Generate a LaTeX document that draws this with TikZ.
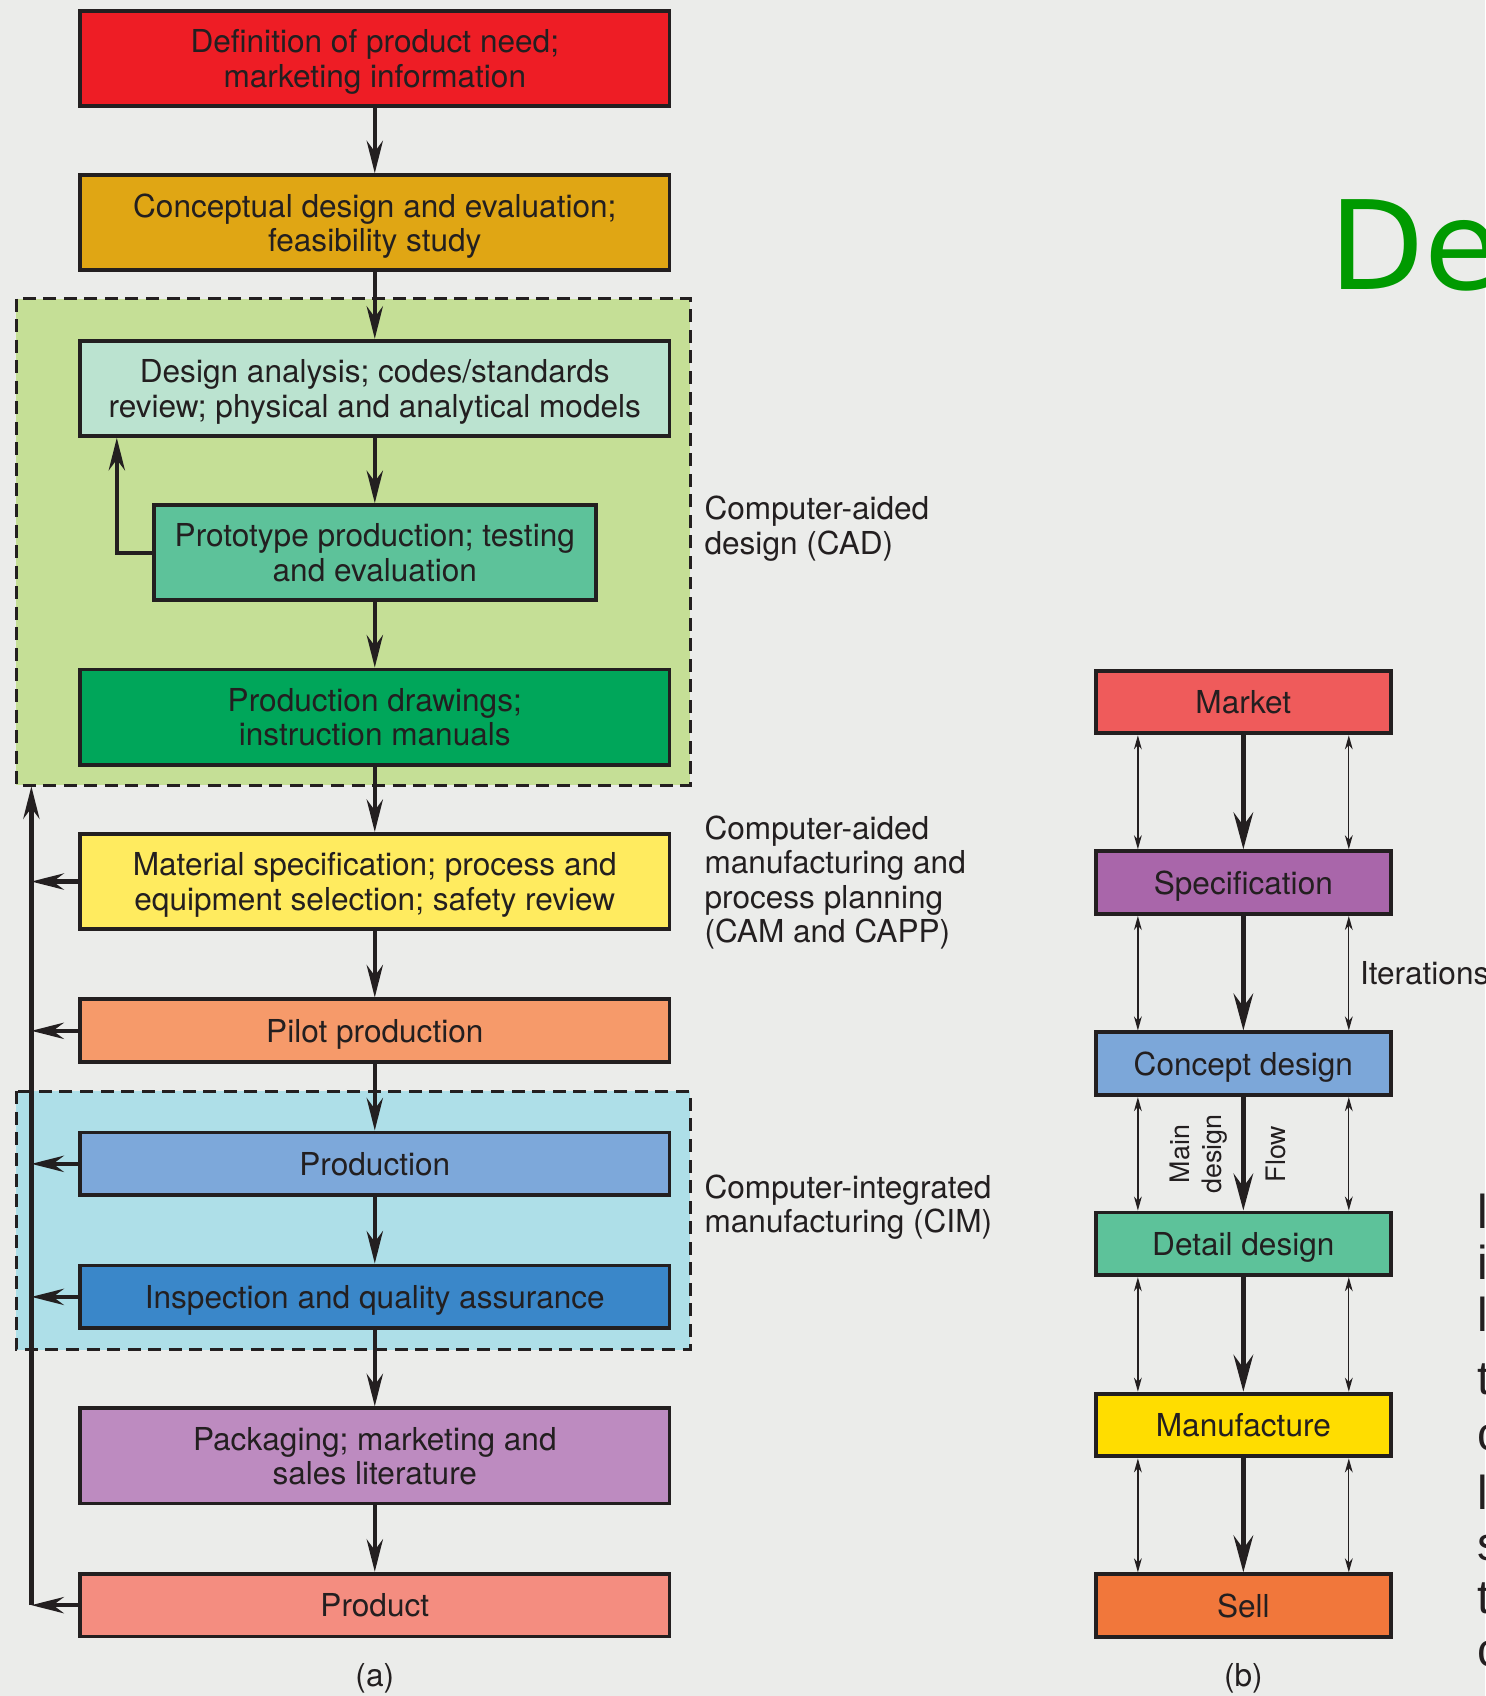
\documentclass[tikz,border=0pt]{standalone}
\usepackage{fontspec}
\setmainfont{TeX Gyre Heros}
\newfontfamily\titlefont{DejaVu Sans}
\newfontfamily\bodyfont{Liberation Sans}
\usetikzlibrary{arrows.meta}

\definecolor{ink}{HTML}{231F20}
\definecolor{bggray}{HTML}{EBECEA}
\definecolor{cadfill}{HTML}{C5DF96}
\definecolor{cimfill}{HTML}{AEDFE8}
\definecolor{needred}{HTML}{EE1D25}
\definecolor{conceptgold}{HTML}{E0A614}
\definecolor{analysismint}{HTML}{BBE3D0}
\definecolor{protogreen}{HTML}{5DC29A}
\definecolor{drawgreen}{HTML}{00A65A}
\definecolor{matyellow}{HTML}{FFEB5F}
\definecolor{pilotorange}{HTML}{F69A6A}
\definecolor{prodblue}{HTML}{7DA8DA}
\definecolor{inspblue}{HTML}{3A87C9}
\definecolor{packpurple}{HTML}{BD8BC0}
\definecolor{productsalmon}{HTML}{F48D80}
\definecolor{marketred}{HTML}{EF5B5B}
\definecolor{specpurple}{HTML}{A966AA}
\definecolor{conceptblue}{HTML}{7CA7D9}
\definecolor{detailgreen}{HTML}{5DC29A}
\definecolor{mfgyellow}{HTML}{FFDD00}
\definecolor{sellorange}{HTML}{F1773B}
\definecolor{titlegreen}{HTML}{009A00}

\newcommand{\boxfont}{\fontsize{14.6}{16}\selectfont}
\newcommand{\smallfont}{\fontsize{12.4}{15}\selectfont}

\tikzset{
  flowbox/.style={draw=ink, line width=1.8pt, minimum width=272.5pt,
    align=center, font=\boxfont, text=ink, inner sep=2pt, text depth=0pt},
  stagebox/.style={draw=ink, line width=1.8pt, minimum width=136.5pt,
    minimum height=29pt, align=center, font=\boxfont, text=ink, text depth=0pt},
  groupbox/.style={draw=ink, line width=1.4pt, dash pattern=on 6pt off 3.5pt},
  sidelabel/.style={anchor=west, align=left, inner sep=0pt, font=\boxfont, text=ink},
  mainarrow/.style={draw=ink, line width=2pt, -{Stealth[length=15pt,width=7.5pt,inset=5pt]}},
  flowarrow/.style={draw=ink, line width=2.5pt, -{Stealth[length=17pt,width=9pt,inset=6pt]}},
  iterarrow/.style={draw=ink, line width=0.6pt, {Stealth[length=6.5pt,width=3.6pt,inset=2pt]}-{Stealth[length=6.5pt,width=3.6pt,inset=2pt]}}
}

\newcommand{\twobox}{\node[flowbox, minimum height=44pt]}
\newcommand{\onebox}{\node[flowbox, minimum height=29pt]}
\newcommand{\stage}{\node[stagebox]}

\begin{document}
\begin{tikzpicture}[x=0.5pt, y=-0.5pt]
\useasboundingbox[fill=bggray] (0,0) rectangle (1373,1568);

% shaded groups (CAD and CIM)
\draw[groupbox, fill=cadfill] (15,276) rectangle (638,726);
\draw[groupbox, fill=cimfill] (15,1009) rectangle (638,1248);

% (a) product cycle
\twobox[fill=needred] (n1) at (346.5,54) {Definition of product need;\\marketing information};
\twobox[fill=conceptgold] (n2) at (346.5,206) {Conceptual design and evaluation;\\feasibility study};
\twobox[fill=analysismint] (n3) at (346.5,359) {Design analysis; codes/standards\\review; physical and analytical models};
\twobox[fill=protogreen, minimum width=204.5pt] (n4) at (346.5,511) {Prototype production; testing\\and evaluation};
\twobox[fill=drawgreen] (n5) at (346.5,663) {Production drawings;\\instruction manuals};
\twobox[fill=matyellow] (n6) at (346.5,815) {Material specification; process and\\equipment selection; safety review};
\onebox[fill=pilotorange] (n7) at (346.5,953) {Pilot production};
\onebox[fill=prodblue] (n8) at (346.5,1076) {Production};
\onebox[fill=inspblue] (n9) at (346.5,1199) {Inspection and quality assurance};
\twobox[fill=packpurple] (n10) at (346.5,1346) {Packaging; marketing and\\sales literature};
\onebox[fill=productsalmon] (n11) at (346.5,1484) {Product};

\coordinate (fbtop) at (29,727);
\coordinate (fbbot) at (29,1484);
\coordinate (loop) at (108,511);

\draw[mainarrow] (n1) -- (n2);
\draw[mainarrow] (n2) -- (n3);
\draw[mainarrow] (n3) -- (n4);
\draw[mainarrow] (n4) -- (n5);
\draw[mainarrow] (n5) -- (n6);
\draw[mainarrow] (n6) -- (n7);
\draw[mainarrow] (n7) -- (n8);
\draw[mainarrow] (n8) -- (n9);
\draw[mainarrow] (n9) -- (n10);
\draw[mainarrow] (n10) -- (n11);

% feedback loops
\draw[mainarrow] (n4.west) -- (loop) -- (loop |- n3.south);
\draw[mainarrow] (fbbot) -- (fbtop);
\draw[mainarrow] (n6.west) -- (n6.west -| fbtop);
\draw[mainarrow] (n7.west) -- (n7.west -| fbtop);
\draw[mainarrow] (n8.west) -- (n8.west -| fbtop);
\draw[mainarrow] (n9.west) -- (n9.west -| fbtop);
\draw[mainarrow] (n11.west) -- (fbbot);

\node[sidelabel] (cad) at (651,489) {Computer-aided\\design (CAD)};
\node[sidelabel] (cam) at (651,816) {Computer-aided\\manufacturing and\\process planning\\(CAM and CAPP)};
\node[sidelabel] (cim) at (651,1116) {Computer-integrated\\manufacturing (CIM)};
\node[font=\boxfont, text=ink] (capa) at (346.5,1552) {(a)};

% (b) design stages
\stage[fill=marketred] (m1) at (1149.5,649) {Market};
\stage[fill=specpurple] (m2) at (1149.5,816) {Specification};
\stage[fill=conceptblue] (m3) at (1149.5,983.5) {Concept design};
\stage[fill=detailgreen] (m4) at (1149.5,1150) {Detail design};
\stage[fill=mfgyellow] (m5) at (1149.5,1317.5) {Manufacture};
\stage[fill=sellorange] (m6) at (1149.5,1484.5) {Sell};

\coordinate (lx) at (1052,0);
\coordinate (rx) at (1247,0);

\foreach \a/\b in {m1/m2, m2/m3, m3/m4, m4/m5, m5/m6} {
  \draw[flowarrow] (\a) -- (\b);
  \draw[iterarrow] (\a.south -| lx) -- (\b.north -| lx);
  \draw[iterarrow] (\a.south -| rx) -- (\b.north -| rx);
}

\node[sidelabel] (iter) at (1257,900) {Iterations};
\node[font=\smallfont, text=ink, align=center, rotate=90] (maind) at (1108,1067) {Main\\design};
\node[font=\smallfont, text=ink, rotate=90] (flow) at (1180,1067) {Flow};
\node[font=\boxfont, text=ink] (capb) at (1149.5,1552) {(b)};

% slide text cut by the edge
\node[anchor=base west, inner sep=0pt, text=titlegreen, font=\titlefont\fontsize{57}{60}\selectfont] (title) at (1229,268) {De};
\foreach \yy/\ch in {1136/l, 1183/i, 1231/l, 1289/t, 1341/c, 1396/l, 1443/s, 1492/t, 1541/c}
  \node[anchor=base west, inner sep=0pt, text=ink, font=\bodyfont\fontsize{22}{24}\selectfont] at (1366,\yy) {\ch};
\end{tikzpicture}
\end{document}
